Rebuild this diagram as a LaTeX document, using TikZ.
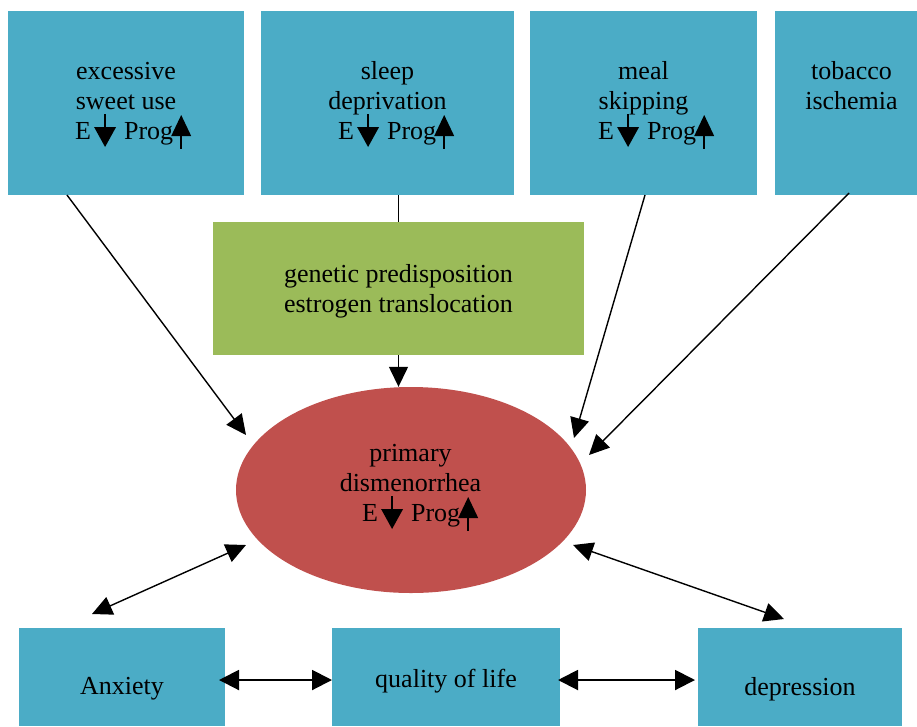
\documentclass[tikz,border=0pt]{standalone}
\usepackage{fontspec}
\setmainfont{Liberation Serif}
\usetikzlibrary{arrows.meta,shapes.geometric}
\definecolor{boxblue}{HTML}{4BACC6}
\definecolor{boxgreen}{HTML}{9BBB59}
\definecolor{boxred}{HTML}{C0504D}
\newcommand\mydnarr{\smash{\tikz[baseline=0pt,x=1pt,y=1pt]{\draw[line width=1.8pt] (0,25)--(0,10);\fill (-11,12)--(11,12)--(0,-8)--cycle;}}}
\newcommand\myuparr{\smash{\tikz[baseline=0pt,x=1pt,y=1pt]{\fill (-10,3)--(10,3)--(0,24)--cycle;\draw[line width=1.8pt] (0,4)--(0,-10);}}}
\newcommand\myEP{E\hspace{3pt}\mydnarr\hspace{8pt}Prog\hspace{-2pt}\myuparr}
\begin{document}
\begin{tikzpicture}[x=1pt,y=-1pt,
  bluebox/.style={fill=boxblue,draw=none,inner sep=0pt,rectangle},
  greenbox/.style={fill=boxgreen,draw=none,inner sep=0pt,rectangle},
  redell/.style={fill=boxred,draw=none,inner sep=0pt,ellipse},
  lbl/.style={font=\fontsize{26}{30}\selectfont,align=center,inner sep=0pt},
  arr/.style={-{Triangle[length=20pt,width=19pt]},line width=1.4pt},
  darr/.style={{Triangle[length=20pt,width=19pt]}-{Triangle[length=20pt,width=19pt]},line width=1.4pt},
  harr/.style={{Triangle[length=20pt,width=20pt]}-{Triangle[length=20pt,width=20pt]},line width=2pt}]
\useasboundingbox (0,0) rectangle (917,726);
% top boxes
\node[bluebox,minimum width=236pt,minimum height=184pt] (b1) at (126,103) {};
\node[bluebox,minimum width=253pt,minimum height=184pt] (b2) at (387.5,103) {};
\node[bluebox,minimum width=227pt,minimum height=184pt] (b3) at (643.5,103) {};
\node[bluebox,minimum width=142pt,minimum height=184pt] (b4) at (846,103) {};
% green box
\node[greenbox,minimum width=371pt,minimum height=133pt] (g) at (398.5,288.5) {};
% ellipse
\node[redell,minimum width=350pt,minimum height=206pt] (el) at (411,490) {};
% bottom boxes
\node[bluebox,minimum width=206pt,minimum height=98pt] (anx) at (122,677) {};
\node[bluebox,minimum width=228pt,minimum height=98pt] (qol) at (446,677) {};
\node[bluebox,minimum width=204pt,minimum height=98pt] (dep) at (800,677) {};
% texts
\node[lbl,anchor=north] (t1) at (126,58) {excessive\strut\\sweet use\strut};
\node[lbl,anchor=base west] (e1) at (75,139) {\myEP};
\node[lbl,anchor=north] (t2) at (387.5,58) {sleep\strut\\deprivation\strut};
\node[lbl,anchor=base west] (e2) at (338,139) {\myEP};
\node[lbl,anchor=north] (t3) at (643.5,58) {meal\strut\\skipping\strut};
\node[lbl,anchor=base west] (e3) at (598,139) {\myEP};
\node[lbl,anchor=north] (t4) at (851.5,58) {tobacco\strut\\ischemia\strut};
\node[lbl,anchor=north] (tg) at (398.5,261) {genetic predisposition\strut\\estrogen translocation\strut};
\node[lbl,anchor=north] (te) at (410.5,440) {primary\strut\\dismenorrhea\strut};
\node[lbl,anchor=base west] (ee) at (362,521) {\myEP};
\node[lbl,anchor=base] (ta) at (122,694) {Anxiety};
\node[lbl,anchor=base] (tq) at (446,687) {quality of life};
\node[lbl,anchor=base] (td) at (800,695) {depression};
% connector coordinates
\coordinate (s1) at (67,195);
\coordinate (p1) at (246,435);
\coordinate (s3) at (645,195);
\coordinate (p3) at (574,438);
\coordinate (s4) at (849,193);
\coordinate (p4) at (589,455);
\coordinate (qa) at (92,614);
\coordinate (qe) at (246,545);
\coordinate (re) at (573,545);
\coordinate (rd) at (784,619);
\coordinate (h1) at (219,680);
\coordinate (h2) at (332,680);
\coordinate (h3) at (558,680);
\coordinate (h4) at (695,680);
% connectors
\draw[line width=1.4pt] (b2.south -| g.north) -- (g.north);
\draw[arr] (g.south) -- (g.south |- el.north);
\draw[arr] (s1) -- (p1);
\draw[arr] (s3) -- (p3);
\draw[arr] (s4) -- (p4);
\draw[darr] (qa) -- (qe);
\draw[darr] (re) -- (rd);
\draw[harr] (h1) -- (h2);
\draw[harr] (h3) -- (h4);
\end{tikzpicture}
\end{document}
